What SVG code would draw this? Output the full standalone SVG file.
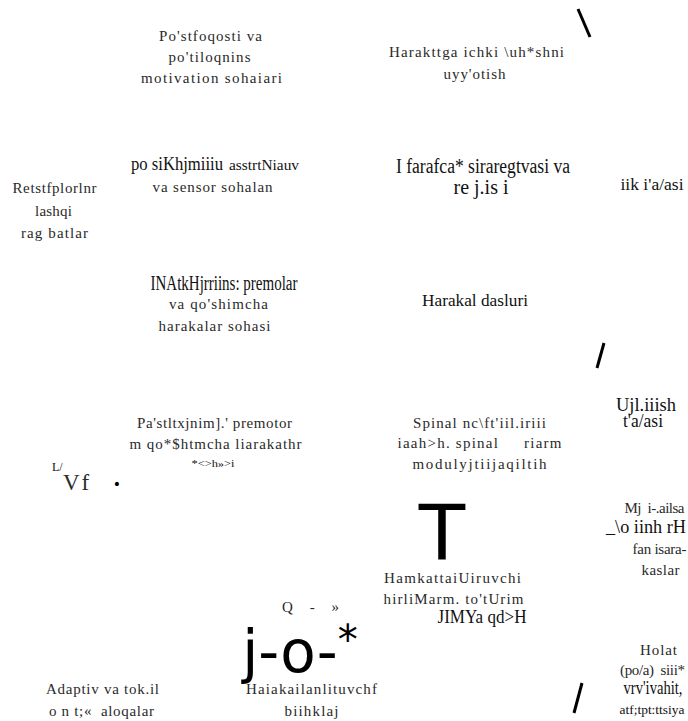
<svg xmlns="http://www.w3.org/2000/svg" width="688" height="721" viewBox="0 0 688 721">
<style>
text{fill:#2a2a2a;text-anchor:middle}
.p{font-family:"Liberation Serif",serif;font-size:15px;letter-spacing:1px}
.t{font-family:"Liberation Serif",serif;fill:#111}
.s{font-family:"DejaVu Sans",sans-serif;fill:#000}
.st{stroke:#000;stroke-width:3;stroke-linecap:butt}
</style>
<rect width="688" height="721" fill="#fff"/>
<g id="marks">
<line class="st" x1="578" y1="9" x2="590" y2="37"/>
<line class="st" x1="604" y1="343" x2="597" y2="368"/>
<line class="st" x1="582" y1="683" x2="574" y2="713"/>
</g>
<g id="n1"><text class="p" x="211" y="41" textLength="104">Po'stfoqosti va</text><text class="p" x="210" y="62" textLength="83">po'tiloqnins</text><text class="p" x="212" y="83" textLength="142">motivation sohaiari</text></g>
<g id="n2"><text class="p" x="477" y="57" textLength="176">Harakttga ichki \uh*shni</text><text class="p" x="475" y="79" textLength="63">uyy'otish</text></g>
<g id="n3"><text class="t" x="131" y="170" style="text-anchor:start;font-size:19px" textLength="92" lengthAdjust="spacingAndGlyphs">po siKhjmiiiu</text><text class="t" x="229" y="170" style="text-anchor:start;font-size:14px" textLength="70" lengthAdjust="spacingAndGlyphs">asstrtNiauv</text><text class="p" x="213" y="192" textLength="121">va sensor sohalan</text></g>
<g id="n4"><text class="t" x="483" y="173" style="font-size:20px" textLength="174" lengthAdjust="spacingAndGlyphs">I farafca* siraregtvasi va</text><text class="t" x="481" y="194" style="font-size:20px" textLength="55" lengthAdjust="spacingAndGlyphs">re j.is i</text></g>
<g id="n5"><text class="t" x="652" y="190" style="font-size:17px" textLength="63" lengthAdjust="spacingAndGlyphs">iik i'a/asi</text></g>
<g id="n6"><text class="p" x="55" y="193" textLength="85">Retstfplorlnr</text><text class="p" x="54" y="216" textLength="38">lashqi</text><text class="p" x="55" y="238" textLength="68">rag batlar</text></g>
<g id="n7"><text class="t" x="224" y="290" style="font-size:20px" textLength="147" lengthAdjust="spacingAndGlyphs">INAtkHjrriins: premolar</text><text class="p" x="219" y="309" textLength="100">va qo'shimcha</text><text class="p" x="215" y="331" textLength="113">harakalar sohasi</text></g>
<g id="n8"><text class="t" x="475" y="306" style="font-size:17px" textLength="106" lengthAdjust="spacingAndGlyphs">Harakal dasluri</text></g>
<g id="n9"><text class="t" x="646" y="411" style="font-size:19px" textLength="60" lengthAdjust="spacingAndGlyphs">Ujl.iiish</text><text class="t" x="643" y="427" style="font-size:19px" textLength="40" lengthAdjust="spacingAndGlyphs">t'a/asi</text></g>
<g id="n10"><text class="p" x="215" y="428" textLength="156">Pa'stltxjnim].' premotor</text><text class="p" x="216" y="449" textLength="173">m qo*$htmcha liarakathr</text><text class="t" x="213" y="467" style="font-size:11px" textLength="43" lengthAdjust="spacingAndGlyphs">*&lt;&gt;h»&gt;i</text></g>
<g id="n11"><text class="t" x="52" y="471" style="text-anchor:start;font-size:12px">L/</text><text class="p" x="63" y="490" style="text-anchor:start;font-size:23px;letter-spacing:2px">Vf</text><text class="s" x="117" y="489" style="font-size:14px">•</text></g>
<g id="n12"><text class="p" x="480" y="428" textLength="134">Spinal nc\ft'iil.iriii</text><text class="p" x="480" y="448" style="white-space:pre" textLength="165">iaah&gt;h. spinal     riarm</text><text class="p" x="480" y="469" textLength="135">modulyjtiijaqiltih</text></g>
<g id="n13"><text class="p" x="655" y="513" style="white-space:pre" textLength="61">Mj  i-.ailsa</text><text class="t" x="646" y="533" style="font-size:19px" textLength="80" lengthAdjust="spacingAndGlyphs">_\o iinh rH</text><text class="p" x="660" y="554" textLength="55">fan isara-</text><text class="p" x="661" y="575" textLength="39">kaslar</text></g>
<g id="n14"><text class="s" x="442" y="560" style="font-size:76px">T</text><text class="p" x="453" y="583" textLength="138">HamkattaiUiruvchi</text><text class="p" x="454" y="604" textLength="141">hirliMarm. to'tUrim</text><text class="t" x="482" y="623" style="font-size:19px" textLength="89" lengthAdjust="spacingAndGlyphs">JIMYa qd&gt;H</text></g>
<g id="n15"><text class="p" x="311" y="612" style="white-space:pre" textLength="58">Q  -  »</text><text class="s" x="300" y="672" style="font-size:58px">j-o-<tspan dy="-18" style="font-size:40px">*</tspan></text><text class="p" x="312" y="694" textLength="132">Haiakailanlituvchf</text><text class="p" x="312" y="716" textLength="55">biihklaj</text></g>
<g id="n16"><text class="p" x="103" y="694" textLength="114">Adaptiv va tok.il</text><text class="p" x="102" y="716" style="white-space:pre" textLength="106">o n t;«  aloqalar</text></g>
<g id="n17"><text class="p" x="659" y="655" textLength="38">Holat</text><text class="p" x="653" y="675" style="white-space:pre" textLength="66">(po/a)  siii*</text><text class="t" x="653" y="694" style="font-size:19px" textLength="59" lengthAdjust="spacingAndGlyphs">vrv'ivahit,</text><text class="t" x="652" y="714" style="font-size:13px" textLength="65" lengthAdjust="spacingAndGlyphs">atf;tpt:ttsiya</text></g>
</svg>
